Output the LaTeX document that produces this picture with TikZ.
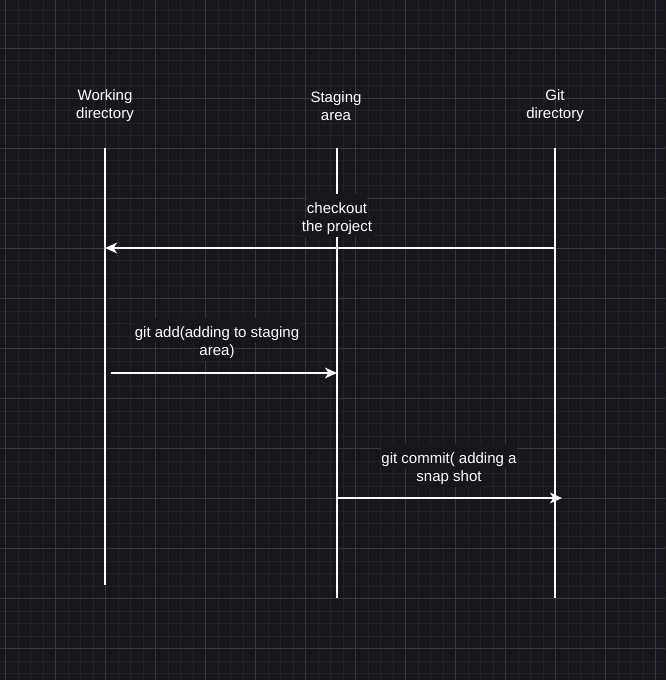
\documentclass[tikz,border=0pt]{standalone}
\usepackage{fontspec}
\setmainfont{Liberation Sans}
\usetikzlibrary{arrows.meta}
\definecolor{bg}{HTML}{18151D}
\definecolor{minorgrid}{HTML}{242128}
\definecolor{majorgrid}{HTML}{3A373F}
\newcommand{\lboxA}[1]{{\setlength{\fboxsep}{0pt}\colorbox{bg}{\rule[-3.5pt]{0pt}{18.1pt}#1}}}
\newcommand{\lboxB}[1]{{\setlength{\fboxsep}{0pt}\colorbox{bg}{\rule[-4.1pt]{0pt}{14.1pt}#1}}}
\tikzset{
  lifeline/.style={draw=white, line width=1pt},
  msg/.style={draw=white, line width=1pt, -{Stealth[length=9pt,width=8pt,inset=2.5pt]}},
  lbl/.style={text=white, align=center, font=\fontsize{11.25pt}{13.5pt}\selectfont, inner sep=0pt},
}
\begin{document}
\begin{tikzpicture}[x=0.75pt,y=-0.75pt]
\fill[bg] (0,0) rectangle (666,680);
\useasboundingbox (0,0) rectangle (666,680);
% grid
\foreach \i in {0,...,53} {\draw[minorgrid, line width=0.75pt] ({5.5+12.5*\i},0) -- ({5.5+12.5*\i},680);}
\foreach \j in {1,...,54} {\draw[minorgrid, line width=0.75pt] (0,{-1.5+12.5*\j}) -- (666,{-1.5+12.5*\j});}
\foreach \i in {0,...,13} {\draw[majorgrid, line width=0.75pt] ({5.5+50*\i},0) -- ({5.5+50*\i},680);}
\foreach \j in {1,...,13} {\draw[majorgrid, line width=0.75pt] (0,{-1.5+50*\j}) -- (666,{-1.5+50*\j});}
% headers
\node[lbl] (wd) at (105,106) {Working\\directory};
\node[lbl] (sa) at (336,106) {Staging\\area};
\node[lbl] (gd) at (555,106) {Git\\directory};
% lifelines
\coordinate (wTop) at (105,148); \coordinate (wBot) at (105,585);
\coordinate (sTop) at (337,148); \coordinate (sBot) at (337,598);
\coordinate (gTop) at (555,148); \coordinate (gBot) at (555,598);
\draw[lifeline] (wTop) -- (wBot);
\draw[lifeline] (sTop) -- (sBot);
\draw[lifeline] (gTop) -- (gBot);
% messages
\coordinate (c1s) at (555,248); \coordinate (c1e) at (105,248);
\coordinate (c2s) at (111,373); \coordinate (c2e) at (337,373);
\coordinate (c3s) at (337,498); \coordinate (c3e) at (562,498);
\draw[msg] (c1s) -- (c1e);
\draw[msg] (c2s) -- (c2e);
\draw[msg] (c3s) -- (c3e);
\node[lbl, anchor=north] (l1) at (337,194) {\lboxA{checkout}\\\lboxB{the project}};
\node[lbl, anchor=north] (l2) at (217,318) {\lboxA{git add(adding to staging}\\\lboxB{area)}};
\node[lbl, anchor=north] (l3) at (449,444) {\lboxA{git commit( adding a}\\\lboxB{snap shot}};
\end{tikzpicture}
\end{document}
